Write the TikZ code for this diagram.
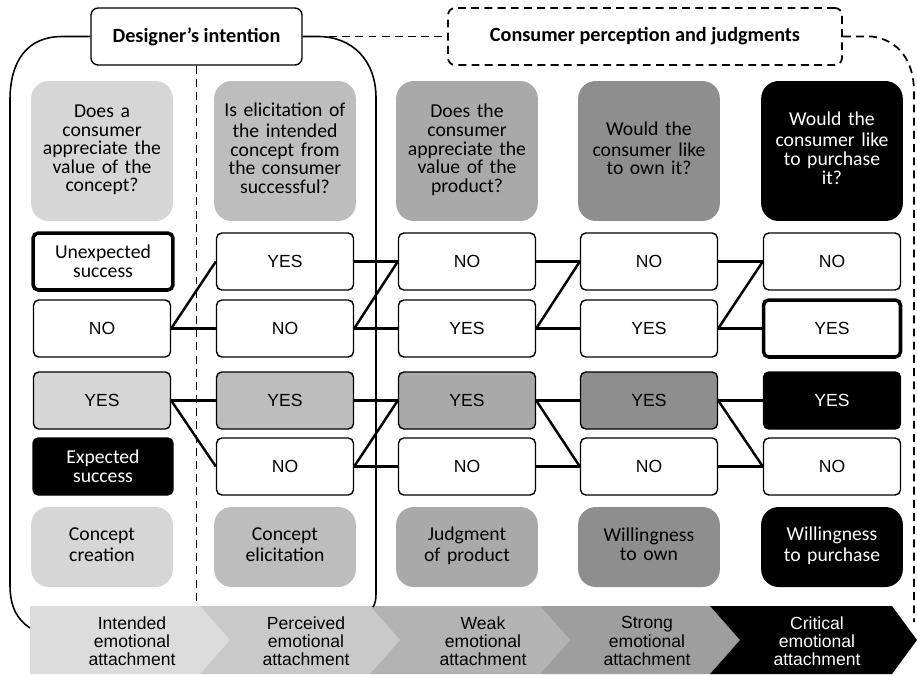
\documentclass[tikz,border=0pt]{standalone}
\usepackage{fontspec}
\setmainfont{Carlito}
\newfontfamily\arialfont{Liberation Sans}

\definecolor{shadeA}{HTML}{D6D6D6}
\definecolor{shadeB}{HTML}{BDBDBD}
\definecolor{shadeC}{HTML}{A9A9A9}
\definecolor{shadeD}{HTML}{8E8E8E}
\definecolor{bandA}{HTML}{DCDCDC}
\definecolor{bandB}{HTML}{C9C9C9}
\definecolor{bandC}{HTML}{B3B3B3}
\definecolor{bandD}{HTML}{9E9E9E}

\tikzset{
  question/.style = {rounded corners = 10pt, minimum width = 2.8cm,
    minimum height = 2.8cm, text width = 2.6cm, align = center,
    font = \fontsize{11.2}{10.6}\selectfont,
    execute at begin node = \strut, execute at end node = \strut},
  stage/.style = {question, minimum height = 1.6cm},
  answer/.style = {draw, rounded corners = 3pt, line width = 0.8pt,
    minimum width = 2.74cm, minimum height = 1.14cm, align = center,
    font = \arialfont\fontsize{10}{11}\selectfont},
  outcome/.style = {answer, font = \fontsize{11.2}{10.6}\selectfont},
  heading/.style = {rounded corners = 4pt, line width = 0.8pt,
    minimum height = 1.14cm, font = \bfseries\fontsize{11.5}{13}\selectfont},
  bandtext/.style = {align = center, font = \arialfont\fontsize{10}{10.4}\selectfont},
  dashline/.style = {dash pattern = on 4.5pt off 3pt, line width = 1pt},
  link/.style = {line width = 1.4pt}
}

\begin{document}
\begin{tikzpicture}[x = 0.02cm, y = -0.02cm]
  \useasboundingbox (0, 0) rectangle (917, 674);

  % emotional attachment band
  \fill[bandA] (30, 606) -- (200, 606) -- (230, 640) -- (200, 674)
    -- (30, 674) -- cycle;
  \fill[bandB] (200, 606) -- (370, 606) -- (400, 640) -- (370, 674)
    -- (200, 674) -- (230, 640) -- cycle;
  \fill[bandC] (370, 606) -- (540, 606) -- (570, 640) -- (540, 674)
    -- (370, 674) -- (400, 640) -- cycle;
  \fill[bandD] (540, 606) -- (710, 606) -- (740, 640) -- (710, 674)
    -- (540, 674) -- (570, 640) -- cycle;
  \fill[black] (710, 606) -- (892, 606) -- (917, 640) -- (892, 674)
    -- (710, 674) -- (740, 640) -- cycle;

  \node[bandtext] (e1) at (132, 641) {Intended\\emotional\\attachment};
  \node[bandtext] (e2) at (306, 641) {Perceived\\emotional\\attachment};
  \node[bandtext] (e3) at (483, 641) {Weak\\emotional\\attachment};
  \node[bandtext] (e4) at (647, 641) {Strong\\emotional\\attachment};
  \node[bandtext, text = white] (e5) at (817, 641)
    {Critical\\emotional\\attachment};

  % headings
  \node[heading, draw, fill = white, minimum width = 4.22cm]
    (des) at (196.5, 36.5) {Designer’s intention};
  \node[heading, draw, dashline, minimum width = 7.88cm]
    (cons) at (645, 36.5) {Consumer perception and judgments};

  \draw[line width = 0.9pt] (des.west) -- (62, 36.5)
    .. controls (28, 36.5) and (10, 60) .. (10, 100) -- (10, 585)
    .. controls (10, 608) and (18, 620) .. (30, 628);
  \draw[line width = 0.9pt] (des.east) -- (318, 36.5)
    .. controls (352, 36.5) and (376, 60) .. (376, 98) -- (376, 594)
    .. controls (376, 600) and (375, 604) .. (373, 607);
  \draw[dashline] (des.east) -- (cons.west);
  \draw[dashline] (cons.east) -- (872, 36.5)
    .. controls (898, 40) and (914, 60) .. (914, 92) -- (914, 622);
  \draw[dashline] (des.south) -- (196.5, 605);

  % questions
  \node[question, fill = shadeA] (q1) at (102, 151)
    {Does a\\consumer\\appreciate the\\value of the\\concept?};
  \node[question, fill = shadeB] (q2) at (285, 151)
    {Is elicitation of\\the intended\\concept from\\the consumer\\successful?};
  \node[question, fill = shadeC] (q3) at (467, 151)
    {Does the\\consumer\\appreciate the\\value of the\\product?};
  \node[question, fill = shadeD] (q4) at (649, 151)
    {Would the\\consumer like\\to own it?};
  \node[question, fill = black, text = white] (q5) at (832, 151)
    {Would the\\consumer like\\to purchase\\it?};

  % answers
  \node[outcome, line width = 2pt, minimum width = 2.8cm] (r1c1) at (103, 261.5)
    {Unexpected\\success};
  \node[answer] (r2c1) at (102, 328.5) {NO};
  \node[answer, fill = shadeA] (r3c1) at (102, 400.5) {YES};
  \node[outcome, fill = black, text = white, minimum width = 2.8cm]
    (r4c1) at (103, 466.5) {Expected\\success};

  \node[answer] (r1c2) at (285, 261.5) {YES};
  \node[answer] (r2c2) at (285, 328.5) {NO};
  \node[answer, fill = shadeB] (r3c2) at (285, 400.5) {YES};
  \node[answer] (r4c2) at (285, 466.5) {NO};

  \node[answer] (r1c3) at (467, 261.5) {NO};
  \node[answer] (r2c3) at (467, 328.5) {YES};
  \node[answer, fill = shadeC] (r3c3) at (467, 400.5) {YES};
  \node[answer] (r4c3) at (467, 466.5) {NO};

  \node[answer] (r1c4) at (649, 261.5) {NO};
  \node[answer] (r2c4) at (649, 328.5) {YES};
  \node[answer, fill = shadeD] (r3c4) at (649, 400.5) {YES};
  \node[answer] (r4c4) at (649, 466.5) {NO};

  \node[answer] (r1c5) at (832, 261.5) {NO};
  \node[answer, line width = 2pt] (r2c5) at (832, 328.5) {YES};
  \node[answer, fill = black, text = white] (r3c5) at (832, 400.5) {YES};
  \node[answer] (r4c5) at (832, 466.5) {NO};

  % stages
  \node[stage, fill = shadeA] (s1) at (102, 547) {Concept\\creation};
  \node[stage, fill = shadeB] (s2) at (285, 547) {Concept\\elicitation};
  \node[stage, fill = shadeC] (s3) at (467, 547) {Judgment\\of product};
  \node[stage, fill = shadeD] (s4) at (649, 547) {Willingness\\to own};
  \node[stage, fill = black, text = white] (s5) at (832, 547)
    {Willingness\\to purchase};

  % links
  \draw[link] (r2c1.east) -- (r1c2.west);
  \draw[link] (r2c1.east) -- (r2c2.west);
  \draw[link] (r3c1.east) -- (r3c2.west);
  \draw[link] (r3c1.east) -- (r4c2.west);

  \draw[link] (r1c2.east) -- (r1c3.west);
  \draw[link] (r2c2.east) -- (r1c3.west);
  \draw[link] (r2c2.east) -- (r2c3.west);
  \draw[link] (r3c2.east) -- (r3c3.west);
  \draw[link] (r4c2.east) -- (r3c3.west);
  \draw[link] (r4c2.east) -- (r4c3.west);

  \draw[link] (r1c3.east) -- (r1c4.west);
  \draw[link] (r2c3.east) -- (r1c4.west);
  \draw[link] (r2c3.east) -- (r2c4.west);
  \draw[link] (r3c3.east) -- (r3c4.west);
  \draw[link] (r3c3.east) -- (r4c4.west);
  \draw[link] (r4c3.east) -- (r4c4.west);

  \draw[link] (r1c4.east) -- (r1c5.west);
  \draw[link] (r2c4.east) -- (r1c5.west);
  \draw[link] (r2c4.east) -- (r2c5.west);
  \draw[link] (r3c4.east) -- (r3c5.west);
  \draw[link] (r3c4.east) -- (r4c5.west);
  \draw[link] (r4c4.east) -- (r4c5.west);
\end{tikzpicture}
\end{document}
